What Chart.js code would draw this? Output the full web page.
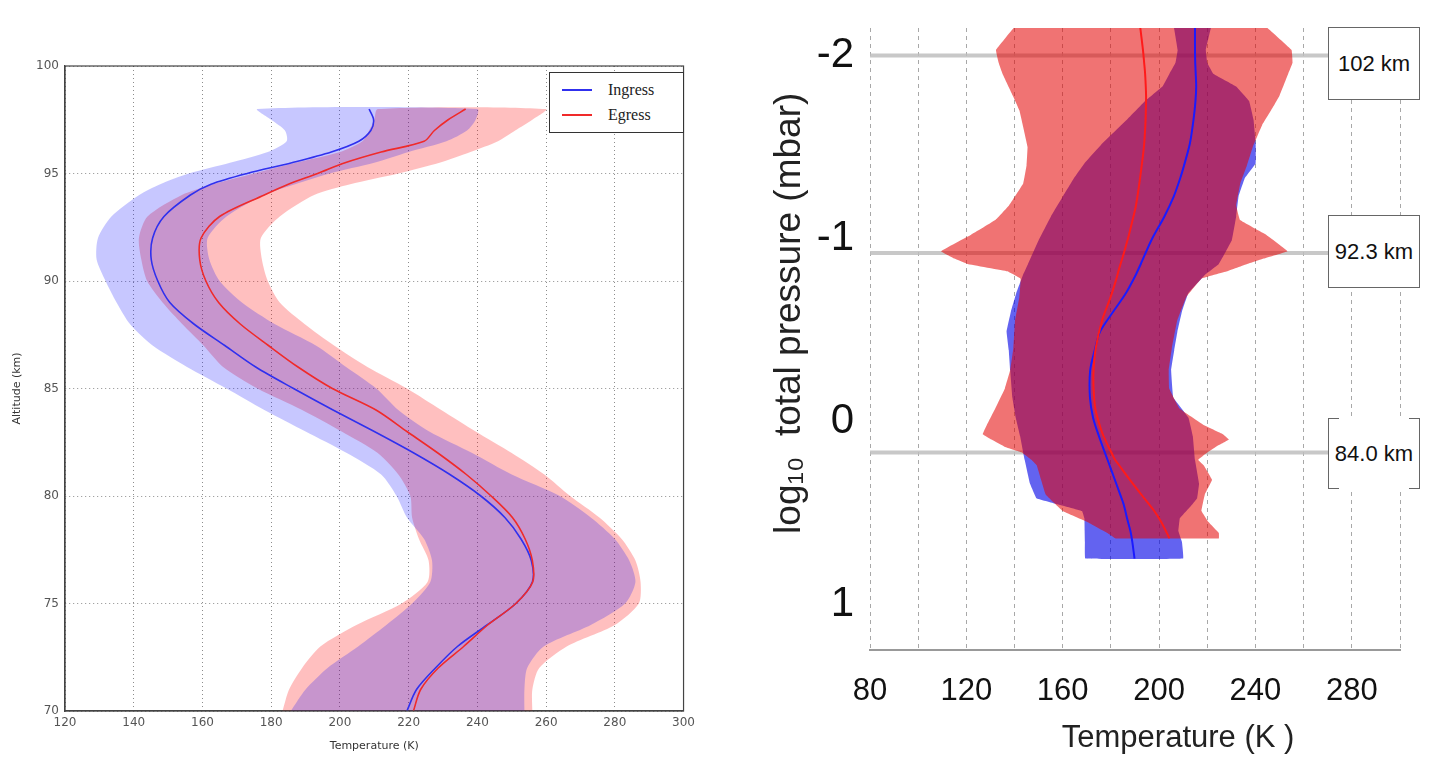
<!DOCTYPE html>
<html>
<head>
<meta charset="utf-8">
<script src="https://cdn.jsdelivr.net/npm/chart.js"></script>
<style>
  html, body { margin: 0; padding: 0; background: #fff; }
  body { width: 1447px; height: 764px; position: relative; overflow: hidden; }
  canvas { position: absolute; top: 0; }
  #leftChart { left: 0; }
  #rightChart { left: 740px; }
  .legend { position: absolute; left: 549px; top: 72px; width: 133px; height: 59px; border: 1px solid #333; background: #fff;
            font-family: 'Liberation Serif', serif; font-size: 16px; color: #222; }
  .legend .row { position: absolute; left: 0; width: 100%; height: 20px; }
  .legend .swatch { position: absolute; left: 12px; top: 9px; width: 30px; height: 2px; }
  .legend .lbl { position: absolute; left: 58px; top: 0; line-height: 20px; white-space: nowrap; }
  .kmbox { position: absolute; left: 1328px; width: 90px; height: 71px; background: #fff; border: 1.5px solid #666;
           font-family: 'Liberation Sans Narrow', 'Liberation Sans', sans-serif; font-size: 22px; color: #111;
           white-space: nowrap; display: flex; align-items: center; justify-content: center; }
  .kmbox.bracket { border-top: none; border-bottom: none; }
  .kmbox .c { position: absolute; width: 10px; height: 0; border-top: 1.5px solid #666; }
</style>
</head>
<body>
<canvas id="leftChart" width="700" height="764"></canvas>
<canvas id="rightChart" width="707" height="764"></canvas>
<div class="legend" id="legend"></div>
<div id="boxes"></div>
<script>
// ---- left panel: altitude profiles (km) ----
const altitude = [70, 71, 72, 73, 74, 75, 76, 77, 78, 79, 80, 81, 82, 83, 84, 85, 86, 87, 88, 89,
                  90, 91, 92, 93, 94, 94.5, 95, 95.5, 96, 96.5, 97, 97.5, 98];
const ingressMean = [219.5, 222.3, 227.8, 234.2, 242.8, 251.2, 256, 255.7, 252.7, 248,
                     241, 232, 221.5, 210, 198, 186.5, 175.5, 166.5, 157.5, 150.5,
                     147, 145.1, 145.5, 148.8, 156.5, 162.5, 173, 186, 197.5, 205.5, 209, 209.8, 208.5];
const ingressLow = [185.7, 190, 196.4, 205.3, 213.5, 221, 226.3, 226.8, 224.5, 219.5,
                    216.5, 212, 202, 190, 178, 167, 155.5, 145.5, 138.9, 135,
                    131.8, 129.2, 129.6, 133.5, 141.6, 147.7, 156, 168, 179, 184.5, 184, 180, 176];
const ingressHigh = [253.7, 253.7, 254.5, 259.3, 273, 283, 286, 284.2, 280, 273,
                     264, 250, 238.5, 226, 217, 210.6, 201.8, 193, 181, 171.5,
                     165, 162, 161.5, 167, 178, 187, 197, 210, 220, 231, 237, 239.5, 240];
const egressMean = [221.4, 223.5, 228.6, 236, 243, 251.2, 256.1, 256, 253.9, 250.2,
                    244, 236.8, 228.5, 219.5, 210.5, 197.8, 187.8, 179.2, 171, 164.7,
                    161, 159.2, 159.6, 165, 178, 185, 193.5, 201.5, 212, 224.5, 227.5, 231.5, 236.6];
const egressLow = [183.3, 185.2, 189, 194.3, 204.8, 218, 225.5, 225.8, 223, 221,
                   220.5, 217, 211, 200.5, 189, 176, 166, 160.3, 154.1, 148.4,
                   143.9, 142.2, 141.5, 144, 154, 163, 175, 187, 200, 206.5, 208.5, 210, 211];
const egressHigh = [256, 256, 258, 266, 280, 287, 287.5, 286, 282, 275.5,
                    267, 259.5, 250, 239.5, 229.5, 219.5, 208, 198.3, 189.7, 182.5,
                    179, 177.3, 177, 182.5, 192.5, 203, 217, 229, 238, 246, 251, 256, 260];
const seriesNames = ['Ingress', 'Egress'];

// ---- right panel: log10 pressure profiles ----
const egressP = [-2.15, -2.03, -1.96, -1.9, -1.78, -1.7, -1.62, -1.5, -1.4, -1.3, -1.18, -1.1, -1.02,
                 -0.93, -0.89, -0.86, -0.82, -0.78, -0.68, -0.55, -0.4, -0.28, -0.18, -0.07, 0.02,
                 0.07, 0.1, 0.14, 0.17, 0.21, 0.24, 0.32, 0.4, 0.49, 0.55, 0.61, 0.64];
const egressLowR = [139.6, 132.3, 133.4, 135, 139.3, 142, 143.4, 145.4, 145, 143.6, 137.7, 132, 122,
                    109.5, 115, 120.5, 137, 142.5, 142, 140.2, 139.5, 138.2, 136, 132, 128.5,
                    126.8, 130.5, 136, 143, 147, 149.2, 151, 152.9, 160, 170.2, 178.5, 182];
const egressHighR = [245, 255, 255.4, 253.6, 250, 246.5, 242.8, 238.9, 236.5, 233.7, 232, 233.6, 244.4,
                     253.3, 243.5, 236.5, 228.2, 217.6, 211.3, 207.5, 205.3, 204, 204.2, 208.5, 218.5,
                     226.5, 229, 223.5, 220, 216.2, 218.5, 222, 219, 217.6, 220.5, 224.8, 224.8];
const egressMeanR = [192.2, 193.3, 193.8, 194.2, 194.6, 194.5, 194.3, 193.7, 192.8, 191.8, 190.4, 189, 187.5,
                     185.6, 184.7, 184, 183.1, 182.3, 179.9, 176.3, 173.7, 172.8, 172.8, 173.5, 175.3,
                     176.6, 177.6, 179, 180.2, 181.7, 183.4, 187.9, 192.6, 198, 200.9, 203.2, 204.3];
const ingressP = [-2.15, -2.03, -1.96, -1.9, -1.83, -1.75, -1.65, -1.52, -1.41, -1.33, -1.23, -1.12, -0.99,
                  -0.86, -0.8, -0.7, -0.6, -0.49, -0.39, -0.28, -0.13, -0.02, 0.08, 0.21, 0.34,
                  0.42, 0.45, 0.49, 0.53, 0.6, 0.66, 0.75];
const ingressLowR = [206.2, 207.7, 206.8, 204.3, 201.4, 194.1, 186.7, 176.5, 169, 164.7, 160.1, 155.1, 150,
                     145.6, 143.5, 140.7, 138.5, 136.7, 137.6, 138.2, 139.1, 140.5, 142.3, 144.2, 146.4,
                     149.1, 157, 168, 169, 169.1, 169.2, 169.4];
const ingressHighR = [221.5, 219.4, 220, 222.5, 232, 237.4, 239.2, 240.1, 240.1, 235.6, 233, 232, 230.2,
                      224.8, 219, 212.1, 209.5, 207.6, 206.3, 205, 205.9, 212.2, 214, 214.9, 216.6,
                      215.8, 214, 211.3, 208.6, 208, 209.5, 210];
const ingressMeanR = [214.9, 214.9, 215, 215.2, 215.4, 215.1, 214.3, 212.8, 210.6, 208.8, 206.1, 202.2, 196.8,
                      192.4, 190.3, 186.2, 181, 175.5, 173.3, 171.4, 171.3, 172.6, 175, 178.6, 182.2,
                      184.4, 185.2, 186, 186.7, 188.1, 188.9, 189.8];
const markerP = [-2.0, -0.92, 0.17];
const markerLabels = ['102 km', '92.3 km', '84.0 km'];

const colors = { ingress: '#3030ee', egress: '#f02a2a' };

function profile(vals, ys) {
  return vals.map((t, i) => ({ x: t, y: ys[i] }));
}
// closed polygon: down the low edge, back up the high edge
function band(low, high, ys) {
  const pts = profile(low, ys);
  for (let i = high.length - 1; i >= 0; i--) pts.push({ x: high[i], y: ys[i] });
  return pts;
}

const framePlugin = {
  id: 'frame',
  afterDatasetsDraw(chart) {
    const { ctx, chartArea: a } = chart;
    ctx.save();
    ctx.strokeStyle = '#444';
    ctx.lineWidth = 1.2;
    ctx.strokeRect(a.left, a.top, a.right - a.left, a.bottom - a.top);
    ctx.restore();
  }
};

const smallFont = { family: 'DejaVu Sans', size: 12 };

new Chart(document.getElementById('leftChart'), {
  type: 'line',
  data: {
    datasets: [
      { label: seriesNames[1], data: profile(egressMean, altitude), borderColor: colors.egress,
        borderWidth: 1.6, pointRadius: 0, tension: 0.3, fill: false, order: 0 },
      { label: seriesNames[0], data: profile(ingressMean, altitude), borderColor: colors.ingress,
        borderWidth: 1.6, pointRadius: 0, tension: 0.3, fill: false, order: 1 },
      { data: band(ingressLow, ingressHigh, altitude), backgroundColor: 'rgba(0,0,255,0.22)',
        borderColor: 'transparent', borderWidth: 0, pointRadius: 0, tension: 0.25, fill: 'shape', order: 2 },
      { data: band(egressLow, egressHigh, altitude), backgroundColor: 'rgba(255,0,0,0.25)',
        borderColor: 'transparent', borderWidth: 0, pointRadius: 0, tension: 0.25, fill: 'shape', order: 3 }
    ]
  },
  options: {
    responsive: false,
    animation: false,
    layout: { padding: { left: 0, top: 66, right: 13, bottom: 0 } },
    plugins: { legend: { display: false }, tooltip: { enabled: false } },
    scales: {
      x: {
        type: 'linear', min: 120, max: 300,
        ticks: { stepSize: 20, font: smallFont, color: '#555', padding: 5, maxRotation: 0 },
        grid: { color: 'rgba(0,0,0,0.45)', drawTicks: false },
        border: { display: true, color: '#444', width: 1.2, dash: [1, 3] },
        title: { display: true, text: 'Temperature (K)', color: '#333',
                 font: { family: 'DejaVu Sans', size: 11 }, padding: { top: 0, bottom: 11 } },
        afterFit: s => { s.height = 53; }
      },
      y: {
        type: 'linear', min: 70, max: 100,
        ticks: { stepSize: 5, font: smallFont, color: '#555', padding: 6 },
        grid: { color: 'rgba(0,0,0,0.45)', drawTicks: false },
        border: { display: true, color: '#444', width: 1.2, dash: [1, 3] },
        title: { display: true, text: 'Altitude (km)', color: '#333',
                 font: { family: 'DejaVu Sans', size: 11 }, padding: { top: 11, bottom: 0 } },
        afterFit: s => { s.width = 65; }
      }
    }
  },
  plugins: [framePlugin]
});

// html legend for the left panel
const legendEl = document.getElementById('legend');
[[seriesNames[0], colors.ingress], [seriesNames[1], colors.egress]].forEach(([name, c], i) => {
  const row = document.createElement('div');
  row.className = 'row';
  row.style.top = (7 + i * 25) + 'px';
  row.innerHTML = '<span class="swatch" style="background:' + c + '"></span><span class="lbl">' + name + '</span>';
  legendEl.appendChild(row);
});

const narrow = "'Liberation Sans Narrow', 'Liberation Sans', sans-serif";

new Chart(document.getElementById('rightChart'), {
  type: 'line',
  data: {
    datasets: [
      { data: profile(egressMeanR, egressP), borderColor: '#ff1a1a', borderWidth: 2,
        pointRadius: 0, tension: 0.3, fill: false, order: 0 },
      { data: profile(ingressMeanR, ingressP), borderColor: '#1a1aff', borderWidth: 2,
        pointRadius: 0, tension: 0.3, fill: false, order: 1 },
      { data: band(egressLowR, egressHighR, egressP), backgroundColor: 'rgba(228,0,0,0.55)',
        borderColor: 'transparent', borderWidth: 0, pointRadius: 0, tension: 0.05, fill: 'shape', order: 2 },
      { data: band(ingressLowR, ingressHighR, ingressP), backgroundColor: 'rgba(0,0,230,0.61)',
        borderColor: 'transparent', borderWidth: 0, pointRadius: 0, tension: 0.05, fill: 'shape', order: 3 },
      ...markerP.map((p, i) => ({
        data: [{ x: 80, y: p }, { x: 300, y: p }], borderColor: 'rgba(190,190,190,0.85)', borderWidth: 4,
        pointRadius: 0, fill: false, order: 4 + i
      }))
    ]
  },
  options: {
    responsive: false,
    animation: false,
    layout: { padding: { left: 0, top: 28, right: 47, bottom: 0 } },
    plugins: { legend: { display: false }, tooltip: { enabled: false } },
    scales: {
      x: {
        type: 'linear', min: 80, max: 300,
        ticks: { stepSize: 20, color: '#111', padding: 23, maxRotation: 0, autoSkip: false,
                 font: { family: narrow, size: 31 },
                 callback: v => ((v - 80) % 40 === 0 && v < 300) ? v : '' },
        grid: { color: '#a8a8a8', lineWidth: 1, drawTicks: false },
        border: { display: true, color: '#999', width: 2, dash: [4, 4] },
        title: { display: true, text: '          Temperature (K )', color: '#222',
                 font: { family: narrow, size: 31 }, padding: { top: 0, bottom: 7 } },
        afterFit: s => { s.height = 114; s.paddingLeft = 0; s.paddingRight = 0; }
      },
      y: {
        type: 'linear', min: -2.15, max: 1.25, reverse: true,
        ticks: { stepSize: 1, includeBounds: false, color: '#111', padding: 16,
                 font: { family: narrow, size: 42 },
                 callback: v => Number.isInteger(v) ? v : '' },
        grid: { display: false, drawTicks: false },
        border: { display: false },
        title: { display: true, text: '     log\u2081\u2080  total pressure (mbar)', color: '#222',
                 font: { family: narrow, size: 37 }, padding: { top: 28, bottom: 0 } },
        afterFit: s => { s.width = 130; s.paddingTop = 0; s.paddingBottom = 0; }
      }
    }
  }
});

// altitude labels beside the grey pressure markers
const boxTops = [27, 215, 418];
const boxesEl = document.getElementById('boxes');
markerLabels.forEach((txt, i) => {
  const b = document.createElement('div');
  b.className = 'kmbox' + (i === 2 ? ' bracket' : '');
  b.style.top = boxTops[i] + 'px';
  b.textContent = txt;
  if (i === 2) {
    [['left', 'top'], ['right', 'top'], ['left', 'bottom'], ['right', 'bottom']].forEach(([h, v]) => {
      const c = document.createElement('span');
      c.className = 'c';
      c.style[h] = '0';
      c.style[v] = '0';
      b.appendChild(c);
    });
  }
  boxesEl.appendChild(b);
});
</script>
</body>
</html>
